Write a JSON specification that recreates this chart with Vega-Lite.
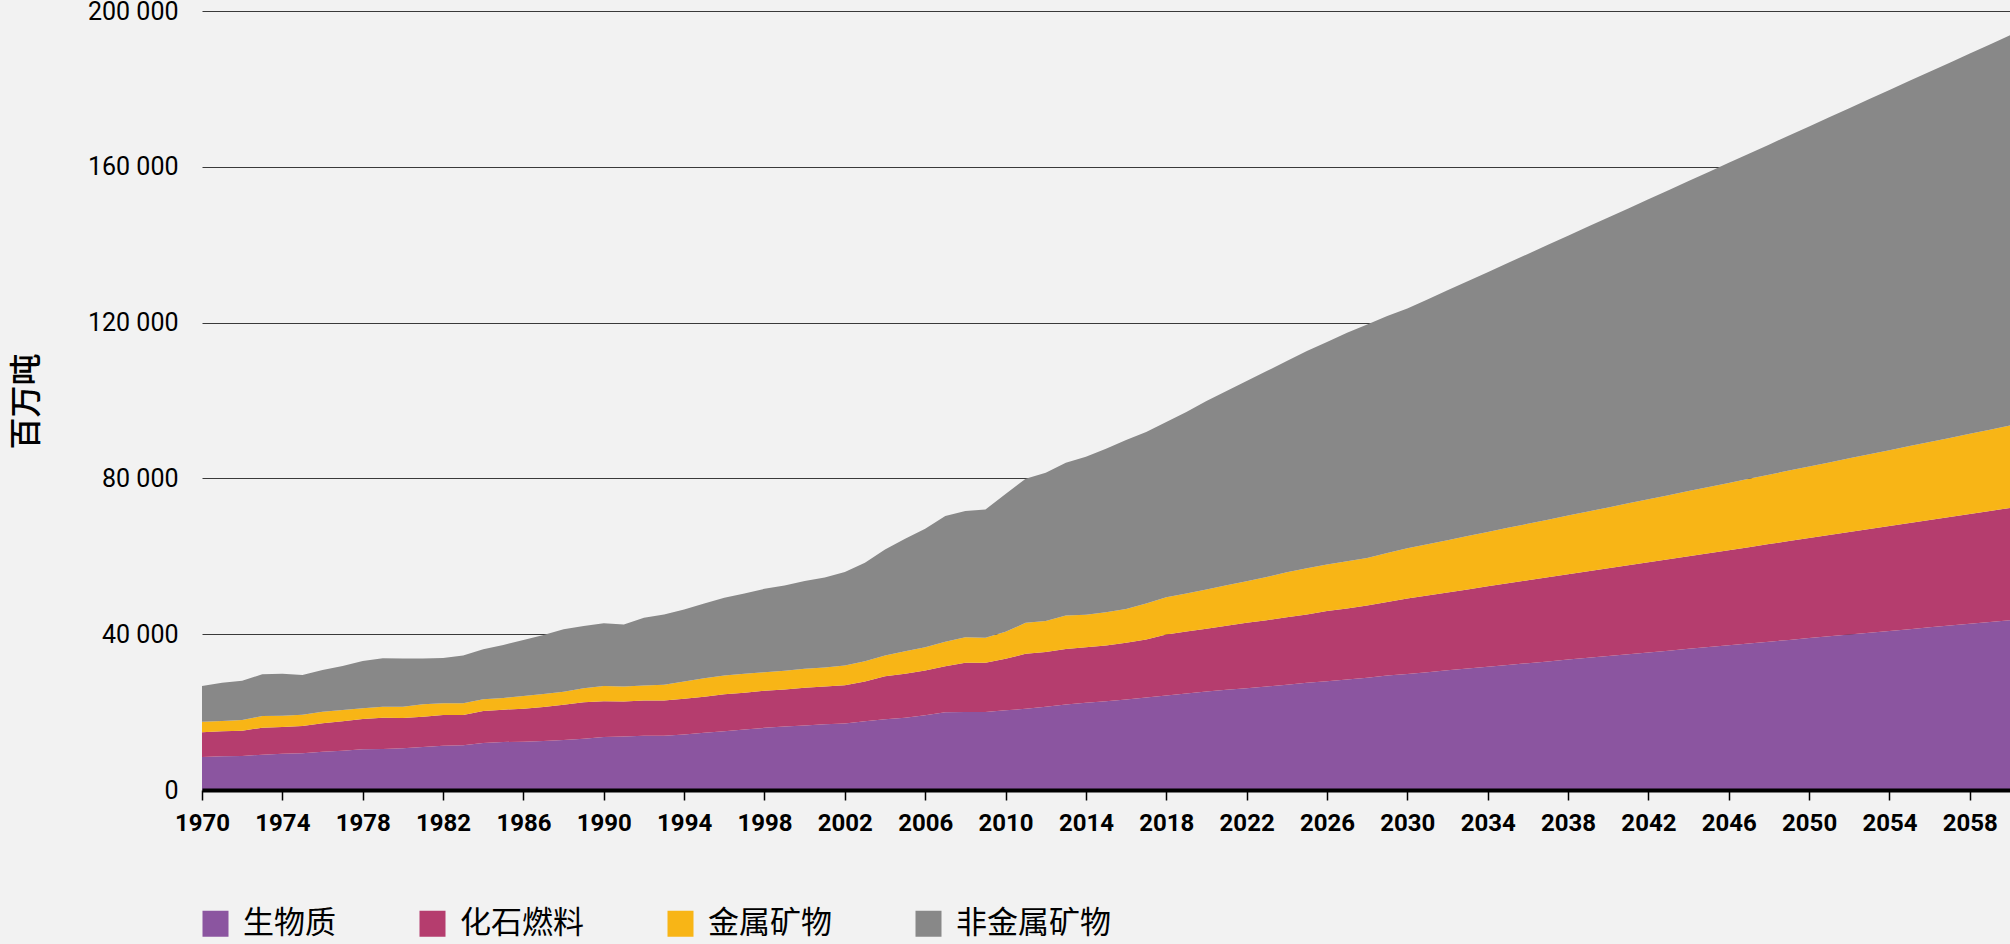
{
  "$schema": "https://vega.github.io/schema/vega-lite/v6.json",
  "autosize": {"type": "none"},
  "width": 1808,
  "height": 779,
  "padding": {"left": 202, "top": 11, "right": 0, "bottom": 154},
  "background": "#F2F2F2",
  "config": {"view": {"stroke": null}, "font": "Roboto"},
  "data": {"values": [
    {"year":1970,"biomass":8470,"fossil":6330,"metal":2750,"nonmetal":9150},
    {"year":1971,"biomass":8650,"fossil":6420,"metal":2650,"nonmetal":9840},
    {"year":1972,"biomass":8730,"fossil":6510,"metal":2740,"nonmetal":10100},
    {"year":1973,"biomass":9070,"fossil":6930,"metal":3000,"nonmetal":10700},
    {"year":1974,"biomass":9330,"fossil":6850,"metal":2910,"nonmetal":10780},
    {"year":1975,"biomass":9420,"fossil":7010,"metal":2920,"nonmetal":10180},
    {"year":1976,"biomass":9840,"fossil":7280,"metal":2980,"nonmetal":10700},
    {"year":1977,"biomass":10100,"fossil":7530,"metal":2910,"nonmetal":11300},
    {"year":1978,"biomass":10440,"fossil":7790,"metal":2740,"nonmetal":12160},
    {"year":1979,"biomass":10530,"fossil":8050,"metal":2820,"nonmetal":12400},
    {"year":1980,"biomass":10700,"fossil":7790,"metal":2910,"nonmetal":12330},
    {"year":1981,"biomass":11040,"fossil":7790,"metal":3170,"nonmetal":11730},
    {"year":1982,"biomass":11380,"fossil":7880,"metal":3000,"nonmetal":11640},
    {"year":1983,"biomass":11470,"fossil":7790,"metal":3000,"nonmetal":12240},
    {"year":1984,"biomass":12070,"fossil":8220,"metal":2990,"nonmetal":12840},
    {"year":1985,"biomass":12330,"fossil":8300,"metal":3000,"nonmetal":13610},
    {"year":1986,"biomass":12410,"fossil":8480,"metal":3250,"nonmetal":14380},
    {"year":1987,"biomass":12580,"fossil":8730,"metal":3340,"nonmetal":15150},
    {"year":1988,"biomass":12840,"fossil":9070,"metal":3340,"nonmetal":16010},
    {"year":1989,"biomass":13180,"fossil":9330,"metal":3590,"nonmetal":16000},
    {"year":1990,"biomass":13600,"fossil":9200,"metal":3900,"nonmetal":16100},
    {"year":1991,"biomass":13740,"fossil":8990,"metal":3850,"nonmetal":15920},
    {"year":1992,"biomass":13910,"fossil":9080,"metal":3850,"nonmetal":17370},
    {"year":1993,"biomass":13910,"fossil":9090,"metal":4000,"nonmetal":18070},
    {"year":1994,"biomass":14250,"fossil":9160,"metal":4450,"nonmetal":18490},
    {"year":1995,"biomass":14680,"fossil":9250,"metal":4790,"nonmetal":19170},
    {"year":1996,"biomass":15110,"fossil":9500,"metal":4790,"nonmetal":19950},
    {"year":1997,"biomass":15540,"fossil":9410,"metal":4880,"nonmetal":20630},
    {"year":1998,"biomass":15960,"fossil":9510,"metal":4790,"nonmetal":21400},
    {"year":1999,"biomass":16300,"fossil":9510,"metal":4790,"nonmetal":21910},
    {"year":2000,"biomass":16560,"fossil":9680,"metal":4880,"nonmetal":22510},
    {"year":2001,"biomass":16900,"fossil":9680,"metal":4880,"nonmetal":23110},
    {"year":2002,"biomass":17070,"fossil":9850,"metal":5050,"nonmetal":23970},
    {"year":2003,"biomass":17680,"fossil":10180,"metal":5220,"nonmetal":25260},
    {"year":2004,"biomass":18190,"fossil":11040,"metal":5310,"nonmetal":27220},
    {"year":2005,"biomass":18530,"fossil":11300,"metal":5820,"nonmetal":28850},
    {"year":2006,"biomass":19220,"fossil":11470,"metal":5990,"nonmetal":30390},
    {"year":2007,"biomass":19990,"fossil":11810,"metal":6230,"nonmetal":32290},
    {"year":2008,"biomass":20000,"fossil":12660,"metal":6570,"nonmetal":32370},
    {"year":2009,"biomass":20000,"fossil":12660,"metal":6400,"nonmetal":32970},
    {"year":2010,"biomass":20450,"fossil":13250,"metal":6900,"nonmetal":35400},
    {"year":2011,"biomass":20840,"fossil":14130,"metal":7960,"nonmetal":36970},
    {"year":2012,"biomass":21360,"fossil":14040,"metal":7960,"nonmetal":38100},
    {"year":2013,"biomass":21960,"fossil":14210,"metal":8630,"nonmetal":39230},
    {"year":2014,"biomass":22380,"fossil":14300,"metal":8300,"nonmetal":40580},
    {"year":2015,"biomass":22810,"fossil":14300,"metal":8550,"nonmetal":41950},
    {"year":2016,"biomass":23240,"fossil":14550,"metal":8710,"nonmetal":43340},
    {"year":2017,"biomass":23750,"fossil":14900,"metal":9200,"nonmetal":44040},
    {"year":2018,"biomass":24270,"fossil":15660,"metal":9550,"nonmetal":44980},
    {"year":2019,"biomass":24780,"fossil":15920,"metal":9720,"nonmetal":46600},
    {"year":2020,"biomass":25300,"fossil":16090,"metal":10060,"nonmetal":48400},
    {"year":2021,"biomass":25720,"fossil":16440,"metal":10400,"nonmetal":49860},
    {"year":2022,"biomass":26150,"fossil":16780,"metal":10660,"nonmetal":51400},
    {"year":2023,"biomass":26580,"fossil":17030,"metal":11090,"nonmetal":52860},
    {"year":2024,"biomass":27010,"fossil":17370,"metal":11520,"nonmetal":54220},
    {"year":2025,"biomass":27520,"fossil":17550,"metal":11860,"nonmetal":55760},
    {"year":2026,"biomass":27950,"fossil":17980,"metal":11940,"nonmetal":57130},
    {"year":2027,"biomass":28380,"fossil":18230,"metal":12110,"nonmetal":58680},
    {"year":2028,"biomass":28800,"fossil":18580,"metal":12200,"nonmetal":59960},
    {"year":2029,"biomass":29400,"fossil":18840,"metal":12620,"nonmetal":60820},
    {"year":2030,"biomass":29800,"fossil":19380,"metal":12870,"nonmetal":61550},
    {"year":2031,"biomass":30260,"fossil":19690,"metal":13150,"nonmetal":62840},
    {"year":2032,"biomass":30720,"fossil":20010,"metal":13420,"nonmetal":64130},
    {"year":2033,"biomass":31180,"fossil":20320,"metal":13700,"nonmetal":65420},
    {"year":2034,"biomass":31640,"fossil":20640,"metal":13970,"nonmetal":66700},
    {"year":2035,"biomass":32100,"fossil":20950,"metal":14250,"nonmetal":67990},
    {"year":2036,"biomass":32560,"fossil":21270,"metal":14520,"nonmetal":69280},
    {"year":2037,"biomass":33020,"fossil":21580,"metal":14800,"nonmetal":70570},
    {"year":2038,"biomass":33480,"fossil":21900,"metal":15070,"nonmetal":71860},
    {"year":2039,"biomass":33940,"fossil":22210,"metal":15350,"nonmetal":73150},
    {"year":2040,"biomass":34400,"fossil":22530,"metal":15620,"nonmetal":74430},
    {"year":2041,"biomass":34860,"fossil":22840,"metal":15900,"nonmetal":75720},
    {"year":2042,"biomass":35320,"fossil":23160,"metal":16170,"nonmetal":77010},
    {"year":2043,"biomass":35780,"fossil":23470,"metal":16450,"nonmetal":78300},
    {"year":2044,"biomass":36240,"fossil":23790,"metal":16720,"nonmetal":79590},
    {"year":2045,"biomass":36700,"fossil":24100,"metal":17000,"nonmetal":80880},
    {"year":2046,"biomass":37160,"fossil":24420,"metal":17270,"nonmetal":82170},
    {"year":2047,"biomass":37620,"fossil":24730,"metal":17550,"nonmetal":83460},
    {"year":2048,"biomass":38080,"fossil":25050,"metal":17820,"nonmetal":84740},
    {"year":2049,"biomass":38540,"fossil":25360,"metal":18100,"nonmetal":86030},
    {"year":2050,"biomass":39000,"fossil":25680,"metal":18370,"nonmetal":87320},
    {"year":2051,"biomass":39460,"fossil":25990,"metal":18650,"nonmetal":88610},
    {"year":2052,"biomass":39920,"fossil":26310,"metal":18920,"nonmetal":89900},
    {"year":2053,"biomass":40380,"fossil":26620,"metal":19200,"nonmetal":91190},
    {"year":2054,"biomass":40840,"fossil":26940,"metal":19470,"nonmetal":92480},
    {"year":2055,"biomass":41300,"fossil":27250,"metal":19750,"nonmetal":93770},
    {"year":2056,"biomass":41760,"fossil":27570,"metal":20020,"nonmetal":95050},
    {"year":2057,"biomass":42220,"fossil":27880,"metal":20300,"nonmetal":96340},
    {"year":2058,"biomass":42680,"fossil":28200,"metal":20570,"nonmetal":97630},
    {"year":2059,"biomass":43140,"fossil":28510,"metal":20850,"nonmetal":98920},
    {"year":2060,"biomass":43600,"fossil":28830,"metal":21120,"nonmetal":100210}
  ]},
  "transform": [
    {"fold": ["biomass", "fossil", "metal", "nonmetal"], "as": ["kind", "value"]}
  ],
  "mark": {"type": "area", "interpolate": "linear", "opacity": 1},
  "encoding": {
    "x": {
      "field": "year", "type": "quantitative",
      "scale": {"domain": [1970, 2060], "nice": false, "zero": false},
      "axis": {
        "values": [1970,1974,1978,1982,1986,1990,1994,1998,2002,2006,2010,2014,2018,2022,2026,2030,2034,2038,2042,2046,2050,2054,2058],
        "format": "d",
        "title": null,
        "grid": false,
        "zindex": 1,
        "domainColor": "#000000",
        "domainWidth": 4,
        "tickColor": "#000000",
        "tickWidth": 1.5,
        "tickSize": 10,
        "labelFont": "Roboto",
        "labelFontWeight": "bold",
        "labelFontSize": 24,
        "labelColor": "#000000",
        "labelBaseline": "alphabetic",
        "labelPadding": 30,
        "labelFlush": false,
        "labelOverlap": false
      }
    },
    "y": {
      "field": "value", "type": "quantitative", "stack": "zero",
      "scale": {"domain": [0, 200000], "nice": false},
      "axis": {
        "values": [0, 40000, 80000, 120000, 160000, 200000],
        "labelExpr": "replace(format(datum.value, ','), ',', ' ')",
        "grid": true,
        "gridColor": "#3a3a3a",
        "gridWidth": 1.2,
        "domain": false,
        "ticks": false,
        "labelPadding": 24,
        "labelFont": "Roboto",
        "labelFontSize": 25,
        "labelColor": "#000000",
        "title": "百万吨",
        "titleFont": "Noto Sans CJK SC",
        "titleFontSize": 32,
        "titleFontWeight": 500,
        "titleColor": "#000000",
        "titleAngle": -90,
        "titleAlign": "center",
        "titleBaseline": "middle",
        "titleX": -176,
        "titleY": 390
      }
    },
    "color": {
      "field": "kind", "type": "nominal",
      "scale": {
        "domain": ["biomass", "fossil", "metal", "nonmetal"],
        "range": ["#8B55A0", "#B53D6E", "#F8B516", "#888888"]
      },
      "legend": {
        "orient": "none",
        "legendX": -2,
        "legendY": 897,
        "direction": "horizontal",
        "title": null,
        "padding": 0,
        "symbolType": "square",
        "symbolSize": 676,
        "symbolStrokeWidth": 0,
        "symbolOpacity": 1,
        "labelFont": "Noto Sans CJK SC",
        "labelFontSize": 31,
        "labelColor": "#000000",
        "labelOffset": 12,
        "labelLimit": 400,
        "columnPadding": 81,
        "labelExpr": "{'biomass':'生物质','fossil':'化石燃料','metal':'金属矿物','nonmetal':'非金属矿物'}[datum.value]"
      }
    },
    "order": {"field": "kind", "sort": "ascending"}
  }
}
